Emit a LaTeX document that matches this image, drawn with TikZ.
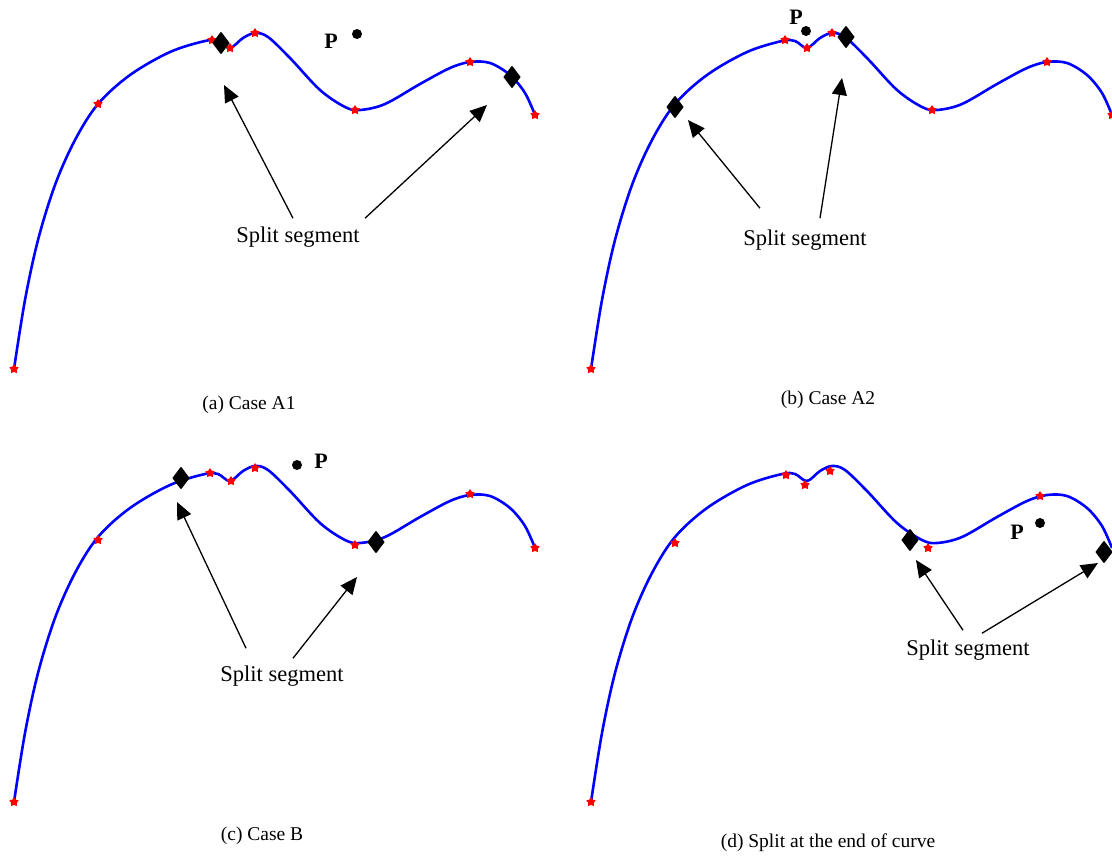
\documentclass[tikz,border=0pt]{standalone}
\usepackage{fontspec}
\setmainfont{Liberation Serif}
\usetikzlibrary{shapes,arrows.meta,positioning}

\newcommand{\basecurve}{%
  \draw[curve] plot[smooth, tension=0.55] coordinates {(14,369) (25,300) (38,240) (55,185) (75,140) (98,104) (130,75) (170,52) (205,41) (218,41) (230,48) (243,38) (255,33) (268,37) (290,58) (320,90) (345,107) (360,110) (385,104) (420,84) (450,68) (470,62) (490,63) (510,75) (525,93) (535,115)};}

\begin{document}
\begin{tikzpicture}[x=1pt, y=-1pt,
    curve/.style={blue, line width=2.6pt},
    knot/.style={star, star points=5, star point ratio=1.7, fill=red, inner sep=0pt, minimum size=10pt},
    cut/.style={diamond, fill=black, draw=black, line width=1.5pt, line join=round, inner sep=0pt, minimum width=16pt, minimum height=21pt},
    probe/.style={circle, fill=black, inner sep=0pt, minimum size=10pt},
    plabel/.style={font=\fontsize{22}{24}\selectfont\bfseries},
    lbl/.style={font=\fontsize{22.5}{25}\selectfont},
    caption/.style={font=\fontsize{19.5}{22}\selectfont},
    arr/.style={-{Triangle[length=17pt, width=15pt]}, line width=1.3pt}
]
\useasboundingbox (0,0) rectangle (1112,855);

% (a) Case A1
\basecurve
\foreach \p in {(14,369),(98,104),(212,40),(230,48),(255,33),(355,110),(470,62),(535,115)}
  \node[knot] at \p {};
\node[cut] (a-cut1) at (221,43) {};
\node[cut] (a-cut2) at (512,77) {};
\node[probe] (a-pt) at (357,34) {};
\node[plabel] (a-P) at (331,41) {P};
\node[lbl] (a-lbl) at (298,237) {Split segment};
\coordinate (a-tip1) at (224,85);
\coordinate (a-tip2) at (487,105);
\draw[arr] ([xshift=-5pt,yshift=5pt]a-lbl.north) -- (a-tip1);
\draw[arr] ([xshift=67pt,yshift=5pt]a-lbl.north) -- (a-tip2);
\node[caption] (a-cap) at (249,405) {(a) Case A1};

% (b) Case A2
\begin{scope}[shift={(577,0)}]
\basecurve
\foreach \p in {(14,369),(208,40),(230,48),(255,33),(355,110),(470,62),(535,115)}
  \node[knot] at \p {};
\node[cut] (b-cut1) at (98,107) {};
\node[cut] (b-cut2) at (269,37) {};
\node[probe] (b-pt) at (229,31) {};
\node[plabel] (b-P) at (219,17) {P};
\node[lbl] (b-lbl) at (228,240) {Split segment};
\coordinate (b-tip1) at (111,120);
\coordinate (b-tip2) at (265,78);
\draw[arr] ([xshift=-45pt,yshift=18pt]b-lbl.north) -- (b-tip1);
\draw[arr] ([xshift=15pt,yshift=8pt]b-lbl.north) -- (b-tip2);
\node[caption] (b-cap) at (251,400) {(b) Case A2};
\end{scope}

% (c) Case B
\begin{scope}[shift={(0,433)}]
\basecurve
\foreach \p in {(14,369),(98,107),(210,40),(231,48),(255,35),(355,112),(470,61),(535,115)}
  \node[knot] at \p {};
\node[cut] (c-cut1) at (181,45) {};
\node[cut] (c-cut2) at (376,109) {};
\node[probe] (c-pt) at (297,32) {};
\node[plabel] (c-P) at (321,28) {P};
\node[lbl] (c-lbl) at (282,243) {Split segment};
\coordinate (c-tip1) at (177,69);
\coordinate (c-tip2) at (357,144);
\draw[arr] ([xshift=-36pt,yshift=14pt]c-lbl.north) -- (c-tip1);
\draw[arr] ([xshift=11pt,yshift=4pt]c-lbl.north) -- (c-tip2);
\node[caption] (c-cap) at (262,403) {(c) Case B};
\end{scope}

% (d) Split at the end of curve
\begin{scope}[shift={(577,433)}]
\basecurve
\foreach \p in {(14,369),(98,110),(209,42),(228,52),(253,38),(351,115),(463,63)}
  \node[knot] at \p {};
\node[cut] (d-cut1) at (333,107) {};
\node[cut] (d-cut2) at (527,119) {};
\node[probe] (d-pt) at (463,90) {};
\node[plabel] (d-P) at (440,99) {P};
\node[lbl] (d-lbl) at (391,217) {Split segment};
\coordinate (d-tip1) at (339,127);
\coordinate (d-tip2) at (521,130);
\draw[arr] ([xshift=-5pt,yshift=6pt]d-lbl.north) -- (d-tip1);
\draw[arr] ([xshift=14pt,yshift=3pt]d-lbl.north) -- (d-tip2);
\node[caption] (d-cap) at (251,410) {(d) Split at the end of curve};
\end{scope}
\end{tikzpicture}
\end{document}
